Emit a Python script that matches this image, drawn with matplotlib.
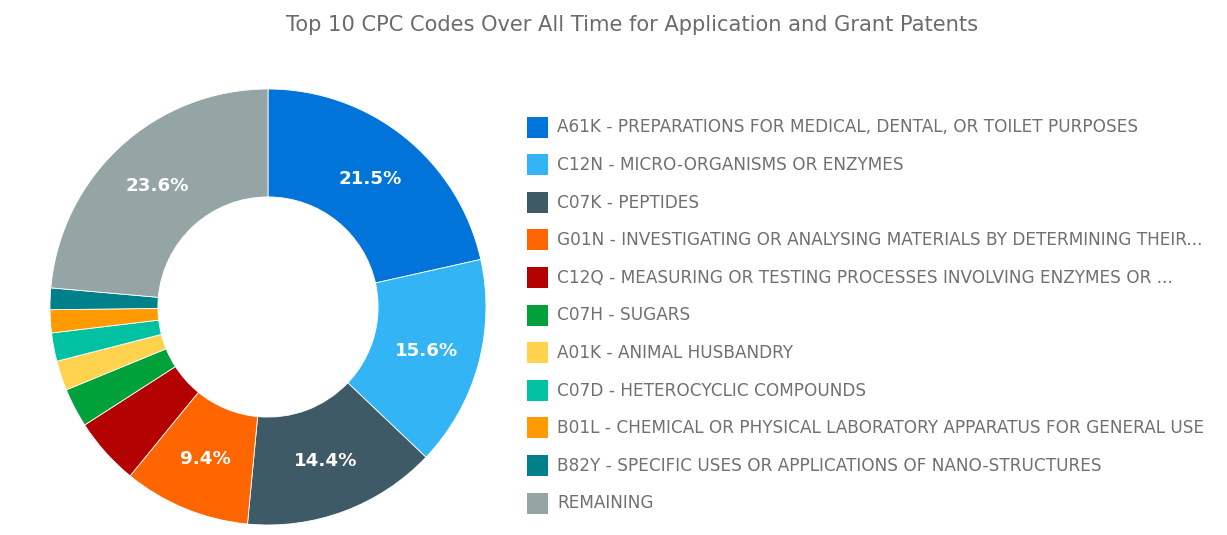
import matplotlib
matplotlib.use("Agg")
import matplotlib.pyplot as plt
from matplotlib.patches import Rectangle
import math

plt.rcParams['font.family'] = ['DejaVu Sans']

codes = ["A61K", "C12N", "C07K", "G01N", "C12Q", "C07H", "A01K", "C07D", "B01L", "B82Y", "REMAINING"]
labels = [
    "A61K - PREPARATIONS FOR MEDICAL, DENTAL, OR TOILET PURPOSES",
    "C12N - MICRO-ORGANISMS OR ENZYMES",
    "C07K - PEPTIDES",
    "G01N - INVESTIGATING OR ANALYSING MATERIALS BY DETERMINING THEIR...",
    "C12Q - MEASURING OR TESTING PROCESSES INVOLVING ENZYMES OR ...",
    "C07H - SUGARS",
    "A01K - ANIMAL HUSBANDRY",
    "C07D - HETEROCYCLIC COMPOUNDS",
    "B01L - CHEMICAL OR PHYSICAL LABORATORY APPARATUS FOR GENERAL USE",
    "B82Y - SPECIFIC USES OR APPLICATIONS OF NANO-STRUCTURES",
    "REMAINING",
]
shares = [21.5, 15.6, 14.4, 9.4, 5.0, 2.9, 2.2, 2.1, 1.7, 1.6, 23.6]
colors = ["#0074D9", "#33B5F5", "#3D5A66", "#FF6600", "#B30000", "#00A13A",
          "#FFD34E", "#00C2A2", "#FF9B00", "#00808A", "#95A5A6"]
title = "Top 10 CPC Codes Over All Time for Application and Grant Patents"

W, H = 1227, 535
fig = plt.figure(figsize=(W / 100, H / 100), dpi=100)
fig.patch.set_facecolor("white")
renderer = fig.canvas.get_renderer()


def fit(t, target_px):
    bb = t.get_window_extent(renderer=renderer)
    t.set_fontsize(t.get_fontsize() * target_px / bb.width)


cx, cy, R = 268, 307, 218
ax = fig.add_axes([(cx - R) / W, (H - cy - R) / H, 2 * R / W, 2 * R / H])
wedges, texts = ax.pie(
    shares, colors=colors, startangle=90, counterclock=False, radius=1.0,
    wedgeprops=dict(width=0.495, edgecolor="white", linewidth=0.6),
)
ax.set_xlim(-1, 1)
ax.set_ylim(-1, 1)
ax.set_axis_off()

cum = 0.0
total = sum(shares)
rmid = 1.0 - 0.495 / 2
for s in shares:
    mid = (cum + s / 2) / total * 360.0
    cum += s
    if s / total * 100 >= 9:
        a = math.radians(mid)
        t = ax.text(rmid * math.sin(a), rmid * math.cos(a), f"{s:.1f}%",
                    ha="center", va="center", color="white", fontsize=12,
                    fontweight="bold")
        if s == 21.5:
            fit(t, 63)
            pct_size = t.get_fontsize()
for t in ax.texts:
    t.set_fontsize(pct_size)

ov = fig.add_axes([0, 0, 1, 1])
ov.set_xlim(0, W)
ov.set_ylim(H, 0)
ov.set_axis_off()

tt = ov.text(632, 25, title, ha="center", va="center", color="#6b6b6b", fontsize=12)
fit(tt, 690)

y0, dy = 127, 37.6
ltexts = []
for i, (lab, col) in enumerate(zip(labels, colors)):
    y = y0 + i * dy
    ov.add_patch(Rectangle((527, y - 10.5), 21, 21, facecolor=col, edgecolor="none"))
    ltexts.append(ov.text(557, y + 0.5, lab, ha="left", va="center",
                          color="#707070", fontsize=10))
fit(ltexts[0], 580)
for t in ltexts[1:]:
    t.set_fontsize(ltexts[0].get_fontsize())

fig.savefig("out.png", dpi=100)
